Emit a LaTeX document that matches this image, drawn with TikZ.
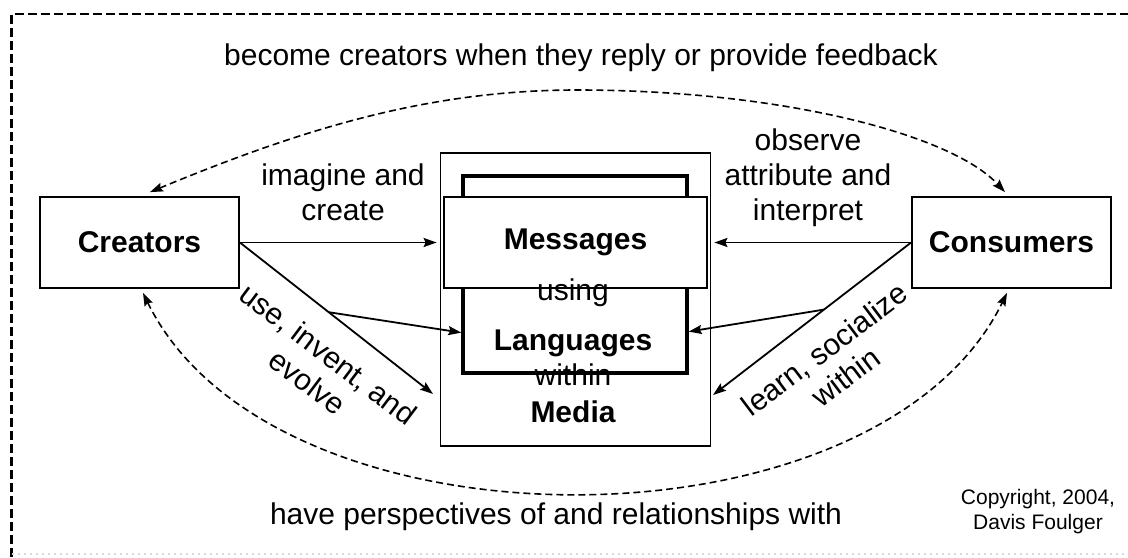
\documentclass[tikz,border=0pt]{standalone}
\usepackage{fontspec}
\setmainfont{Liberation Sans}
\usetikzlibrary{arrows.meta, calc}

\begin{document}
\begin{tikzpicture}[
      x=0.5pt, y=-0.5pt,
      font=\fontsize{15}{17.5}\selectfont,
      box/.style={rectangle, draw, line width=0.9pt, minimum width=99.5pt, minimum height=45.5pt, font=\fontsize{15}{17.5}\selectfont\bfseries},
      frame/.style={rectangle, draw, line width=0.9pt, inner sep=0pt},
      title/.style={anchor=base, inner sep=0pt, font=\fontsize{15}{17.5}\selectfont\bfseries},
      word/.style={anchor=base, inner sep=0pt},
      lbl/.style={align=center, inner sep=0pt},
      arrow/.style={-{Stealth[length=6.5pt, width=4.5pt, inset=1pt]}, line width=0.9pt},
      feedback/.style={{Stealth[length=6.5pt, width=4.5pt, inset=1pt]}-{Stealth[length=6.5pt, width=4.5pt, inset=1pt]}, line width=0.8pt, dash pattern=on 3.5pt off 2pt},
      border/.style={line width=1.2pt, dash pattern=on 4.5pt off 2pt}
    ]

    \useasboundingbox (0,0) rectangle (1128,557);
    \draw[border] (11.5,557) |- (1128,14);
    \draw[black!15, dotted, line width=1pt] (12,554) -- (1128,554);

    \node[box] (creators) at (139.5,242.5) {Creators};
    \node[box] (consumers) at (1011.5,242.5) {Consumers};

    \node[frame, minimum width=135pt, minimum height=146.5pt] (media) at (575.5,299.5) {};
    \node[frame, line width=1.7pt, minimum width=112pt, minimum height=98.5pt] (langs) at (575,274.5) {};
    \node[box, fill=white, minimum width=131.5pt] (messages) at (575.5,242.5) {Messages};

    \node[word] (using) at (573,300) {using};
    \node[title] (langtext) at (573,350) {Languages};
    \node[word] (within) at (573,385) {within};
    \node[title] (mediatext) at (573,422) {Media};

    \coordinate (ctip) at (433,394);
    \coordinate (ktip) at (713,395);
    \coordinate (cfork) at ($(creators.east)!0.46!(ctip)$);
    \coordinate (kfork) at ($(consumers.west)!0.44!(ktip)$);

    \draw[arrow, shorten >=1.5pt] (creators.east) -- (creators.east -| media.west);
    \draw[arrow, shorten >=1.5pt] (consumers.west) -- (consumers.west -| media.east);
    \draw[arrow] (creators.east) -- (ctip);
    \draw[arrow] (cfork) -- ($(langs.west)!0.58!(langs.south west)$);
    \draw[arrow] (consumers.west) -- (ktip);
    \draw[arrow] (kfork) -- ($(langs.east)!0.57!(langs.south east)$);

    \coordinate (toppeak) at (577,90);
    \draw[feedback] ($(creators.north)+(10.5,-4)$) .. controls (300,130) and (427,90) .. (toppeak)
                    .. controls (777,90) and (950,133) .. ($(consumers.north)+(-6.5,-4)$);
    \draw[feedback] ($(creators.south)+(3.5,4)$) .. controls (273,559) and (877,559) .. ($(consumers.south)+(-4.5,4)$);

    \node[lbl] (imagine) at (343,192) {imagine and\\create};
    \node[lbl] (observe) at (808,178) {observe\\attribute and\\interpret};
    \node[lbl, rotate=-37] (useinvent) at (318,368) {use, invent, and\\evolve};
    \node[lbl, rotate=37] (learn) at (835,363) {learn, socialize\\within};
    \node[lbl] (become) at (581,58) {become creators when they reply or provide feedback};
    \node[lbl] (perspectives) at (556,517) {have perspectives of and relationships with};
    \node[lbl, font=\fontsize{10.5}{12.5}\selectfont] (copyright) at (1038,512) {Copyright, 2004,\\Davis Foulger};
  \end{tikzpicture}
\end{document}
